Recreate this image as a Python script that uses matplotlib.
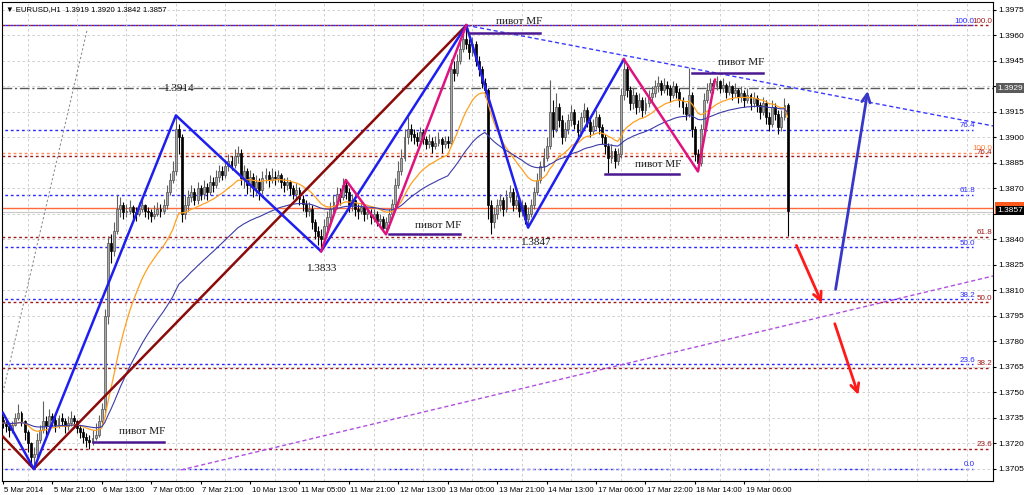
import numpy as np
import pandas as pd
import matplotlib
matplotlib.use("Agg")
import matplotlib.pyplot as plt
import matplotlib.transforms as mtrans
from matplotlib.patches import Rectangle

plt.rcParams["font.family"] = ["Liberation Sans", "DejaVu Sans"]

# prices are given in pips above 1.3700
BASE = 1.37
PIP = 0.0001

first_open = 34
close = [32, 30, 28, 31, 35, 38, 33, 27, 20, 12, 14, 22, 28, 33, 30, 36, 34, 31, 35, 33,
         30, 32, 35, 33, 29, 27, 24, 22, 21, 23, 25, 33, 40, 95, 138, 133, 145, 158, 160, 156,
         157, 159, 156, 155, 158, 160, 157, 156, 154, 155, 158, 157, 160, 168, 175, 180, 205, 200, 155, 160,
         165, 168, 163, 170, 167, 171, 168, 174, 172, 177, 180, 178, 183, 186, 184, 189, 191, 176, 180, 172,
         177, 170, 174, 169, 176, 178, 175, 177, 176, 178, 174, 172, 174, 170, 167, 169, 164, 161, 157, 158,
         150, 145, 142, 140, 148, 153, 158, 162, 167, 165, 172, 168, 160, 163, 158, 157, 159, 155, 156, 153,
         155, 151, 152, 147, 150, 155, 161, 172, 180, 188, 200, 205, 202, 200, 198, 203, 199, 196, 198, 195,
         197, 199, 196, 198, 197, 240, 238, 245, 252, 258, 255, 250, 255, 245, 240, 232, 228, 160, 150, 155,
         160, 163, 158, 165, 168, 160, 163, 157, 160, 152, 155, 160, 168, 175, 183, 188, 195, 215, 205, 218,
         210, 200, 205, 210, 215, 208, 203, 212, 216, 209, 204, 207, 212, 206, 200, 195, 188, 192, 186, 190,
         225, 240, 228, 220, 225, 218, 222, 216, 220, 224, 226, 230, 232, 228, 231, 229, 225, 230, 227, 222,
         218, 214, 225, 205, 190, 185, 205, 222, 228, 232, 230, 233, 229, 231, 227, 230, 226, 228, 224, 226,
         222, 225, 220, 223, 219, 215, 220, 212, 208, 218, 214, 206, 212, 219, 157]
high = [36, 34, 31, 33, 38, 43, 39, 34, 28, 21, 18, 26, 31, 45, 36, 40, 38, 36, 37, 38,
        35, 36, 39, 37, 34, 31, 29, 26, 25, 28, 32, 37, 44, 99, 142, 143, 150, 166, 165, 162,
        161, 163, 160, 159, 162, 164, 161, 159, 158, 160, 162, 161, 164, 172, 179, 186, 213, 208, 202, 166,
        169, 172, 170, 174, 172, 175, 173, 178, 177, 181, 184, 183, 187, 190, 189, 193, 195, 193, 184, 182,
        181, 179, 178, 176, 180, 182, 180, 182, 180, 181, 179, 176, 177, 175, 172, 173, 171, 166, 163, 162,
        160, 152, 148, 146, 152, 157, 162, 166, 171, 170, 176, 175, 170, 167, 164, 161, 163, 161, 159, 158,
        158, 157, 155, 154, 153, 158, 164, 176, 186, 193, 205, 212, 208, 205, 203, 206, 205, 201, 202, 200,
        201, 203, 200, 201, 201, 246, 245, 249, 256, 263, 266, 258, 259, 257, 248, 242, 235, 229, 163, 159,
        164, 167, 165, 169, 172, 170, 166, 165, 163, 162, 159, 164, 171, 179, 186, 194, 200, 234, 222, 226,
        220, 213, 209, 214, 219, 217, 210, 215, 220, 218, 211, 211, 216, 214, 208, 202, 197, 196, 194, 194,
        229, 246, 242, 230, 229, 227, 226, 224, 224, 228, 230, 234, 236, 234, 235, 233, 231, 233, 232, 229,
        224, 220, 241, 227, 207, 193, 208, 226, 232, 235, 234, 236, 234, 235, 232, 233, 231, 232, 229, 230,
        228, 229, 226, 227, 225, 221, 224, 222, 215, 222, 220, 216, 216, 223, 220]
low = [29, 27, 24, 26, 30, 34, 30, 22, 15, 8, 5, 12, 20, 26, 24, 28, 30, 27, 29, 30,
       26, 28, 30, 29, 26, 23, 20, 18, 17, 19, 22, 24, 30, 36, 90, 126, 130, 143, 153, 152,
       153, 155, 152, 151, 154, 156, 153, 152, 150, 152, 154, 153, 155, 158, 166, 173, 178, 190, 150, 152,
       157, 162, 160, 161, 163, 164, 163, 166, 168, 170, 174, 175, 176, 180, 181, 182, 185, 172, 170, 167,
       168, 165, 166, 163, 167, 173, 171, 173, 172, 174, 170, 168, 169, 166, 164, 163, 160, 157, 153, 154,
       146, 140, 137, 133, 138, 145, 150, 155, 158, 160, 163, 164, 156, 157, 154, 152, 155, 151, 152, 149,
       150, 148, 147, 145, 143, 147, 152, 159, 170, 178, 186, 196, 198, 196, 195, 196, 196, 193, 194, 191,
       193, 195, 191, 194, 194, 195, 233, 236, 243, 250, 252, 246, 248, 242, 236, 229, 224, 152, 143, 147,
       152, 157, 154, 156, 162, 157, 158, 153, 154, 149, 147, 153, 158, 166, 173, 180, 186, 193, 200, 203,
       206, 196, 198, 202, 207, 205, 199, 201, 209, 206, 200, 202, 205, 202, 196, 190, 179, 185, 182, 184,
       188, 222, 224, 216, 217, 214, 215, 212, 214, 218, 221, 224, 227, 225, 226, 225, 221, 223, 223, 218,
       214, 210, 212, 200, 186, 180, 183, 203, 220, 226, 226, 228, 226, 227, 223, 225, 222, 224, 220, 221,
       218, 220, 216, 218, 215, 211, 213, 208, 204, 206, 210, 202, 204, 210, 142]

# x axis labels, every 16 hourly bars
time_labels = ["5 Mar 2014", "5 Mar 21:00", "6 Mar 13:00", "7 Mar 05:00", "7 Mar 21:00",
               "10 Mar 13:00", "11 Mar 05:00", "11 Mar 21:00", "12 Mar 13:00", "13 Mar 05:00",
               "13 Mar 21:00", "14 Mar 13:00", "17 Mar 06:00", "17 Mar 22:00", "18 Mar 14:00",
               "19 Mar 06:00"]

# zigzags (bar, pips)
zz_red = [(0, 24), (10, 5), (150, 266)]
zz_blue = [(0, 38), (10, 5), (56, 213), (103, 133), (150, 266), (170, 147), (201, 246)]
zz_pink = [(103, 133), (111, 175), (124, 143), (150, 266)]
zz_pink2 = [(201, 246), (225, 180), (230.5, 234)]

# fibo levels
fib_blue = {"100.0": 266, "76.4": 204.4, "61.8": 166.3, "50.0": 135.5, "38.2": 104.7, "23.6": 66.6, "0.0": 5}
fib_red = {"100.0": 266, "76.4": 189, "61.8": 141.5, "50.0": 103, "38.2": 64.5, "23.6": 17}
fib_orange = {"100.0": 191}

# pivot MF lines: (x0, x1, level)
pivots = [(29, 52, 21), (125, 148, 143), (151, 174, 261.5), (195, 219, 178.5), (223, 246, 238)]
pivot_text = [(45, 27), (141, 148.5), (167, 268), (212, 184), (239, 244)]

zz_labels = [("1.3914", 57, 229), ("1.3833", 103.5, 123), ("1.3847", 172.5, 138), ("1.3966", 150, 282)]

# trend lines
tl_blue = [(150, 266), (222, 241)]
tl_purple = [(57.6, 4.4), (320.5, 118.5)]
tl_gray = [(0, 50), (27.2, 263)]

arrows_red = [((256.5, 138), (265.5, 101)), ((269, 92), (277.2, 47))]
arrow_blue = ((269.4, 109), (280.1, 229))

level_gray = 229       # 1.3929
level_orange = 158.5
last_price = 157


def p(v):
    return BASE + np.asarray(v, dtype=float) * PIP


n = len(close)
x = np.arange(n)
c = np.array(close)
o = np.concatenate([[first_open], c[:-1]])
h = np.array(high)
l = np.array(low)

fig = plt.figure(figsize=(10.24, 4.95), dpi=100)
ax = fig.add_axes([2 / 1024, 14 / 495, 991 / 1024, 479 / 495])
ax.set_xlim(-0.3, 320.5)
ax.set_ylim(1.36979, 1.39797)

# grid
yt = np.arange(1.3705, 1.39751, 0.0015)
ax.set_yticks(yt)
ax.set_yticklabels(["" if abs(v - 1.3930) < 1e-6 or abs(v - 1.3855) < 1e-6 else f"{v:.4f}" for v in yt])
ax.set_xticks(np.arange(0, 16 * len(time_labels), 16))
ax.set_xticklabels(time_labels, ha="left")
ax.set_xticks(np.arange(8, 320, 16), minor=True)
ax.grid(True, which="major", axis="y", color="#c8c8c8", linestyle=(0, (3, 3)), linewidth=0.6)
ax.grid(True, which="minor", axis="x", color="#c8c8c8", linestyle=(0, (3, 3)), linewidth=0.6)
ax.yaxis.tick_right()
ax.tick_params(axis="y", which="major", labelsize=6, length=2.5, pad=1.5, color="black")
ax.tick_params(axis="x", which="major", labelsize=5.6, length=2.5, pad=1.5, color="black")
ax.tick_params(axis="x", which="minor", length=0)
for lab in ax.get_xticklabels():
    lab.set_transform(lab.get_transform() + mtrans.ScaledTranslation(1.5 / 100, 0, fig.dpi_scale_trans))
for s in ax.spines.values():
    s.set_color("black")
    s.set_linewidth(0.8)

right = ax.get_xlim()[1]

# fibo lines
for k, v in fib_red.items():
    ax.plot([-0.3, 319], [p(v)] * 2, color="#a01818", linestyle=(0, (2, 2)), lw=1, zorder=1)
    ax.text(320.2, p(v) + 0.00003, k, color="#a01818", fontsize=5.8, ha="right", va="bottom")
for k, v in fib_blue.items():
    ax.plot([-0.3, 314], [p(v)] * 2, color="#2828ff", linestyle=(2, (2, 2)), lw=1, zorder=1)
    ax.text(314.7 if k != "100.0" else 314.3, p(v) + 0.00003, k, color="#2828ff", fontsize=5.8,
            ha="right", va="bottom")
for k, v in fib_orange.items():
    ax.plot([-0.3, 319], [p(v)] * 2, color="#ff8c5a", linestyle=(0, (2, 2)), lw=1, zorder=1)
    ax.text(320.2, p(v) + 0.00003, k, color="#ff7f3f", fontsize=5.8, ha="right", va="bottom")

ax.axhline(p(level_gray), color="#5a5a5a", linestyle=(0, (7, 2, 1.5, 2)), lw=1, zorder=1)
ax.axhline(p(level_orange), color="#ff6a3d", lw=1, zorder=1)
ax.axhline(p(last_price - 0.8), color="#c8c8c8", lw=0.8, zorder=1)

# trend lines
(bx0, by0), (bx1, by1) = tl_blue
slope = (by1 - by0) / (bx1 - bx0)
ax.plot([bx0, right], p([by0, by0 + slope * (right - bx0)]), color="#3a3aff", linestyle=(0, (3, 2)), lw=1, zorder=2)
ax.plot(*zip(*[(a, p(b)) for a, b in tl_purple]), color="#b050e0", linestyle=(0, (3, 2)), lw=1, zorder=2)
ax.plot(*zip(*[(a, p(b)) for a, b in tl_gray]), color="#909090", linestyle=(0, (2, 2)), lw=0.8, zorder=2)

# candles
up = c >= o
ax.vlines(x[up], p(l[up]), p(h[up]), color="#606060", lw=0.8, zorder=3)
ax.vlines(x[~up], p(l[~up]), p(h[~up]), color="black", lw=0.8, zorder=3)
body = np.where(np.abs(c - o) < 0.6, 0.6, c - o)
ax.bar(x[up], body[up] * PIP, bottom=p(o[up]), width=0.62, color="#a8a8a8", edgecolor="#505050",
       linewidth=0.5, zorder=4)
ax.bar(x[~up], body[~up] * PIP, bottom=p(o[~up]), width=0.62, color="black", edgecolor="black",
       linewidth=0.5, zorder=4)

# moving averages
cs = pd.Series(p(c))
ax.plot(x, cs.ewm(span=21, adjust=False).mean(), color="#ffa020", lw=0.9, zorder=5)
ax.plot(x, cs.ewm(span=50, adjust=False).mean(), color="#3c3ca8", lw=0.8, zorder=5)

# zigzags
for pts, col in [(zz_red, "#8b0a0a"), (zz_blue, "#1e1ef0"), (zz_pink, "#e0127f"), (zz_pink2, "#e0127f")]:
    ax.plot([a for a, b in pts], p([b for a, b in pts]), color=col, lw=1.8, zorder=6)

# pivot MF
for (a0, a1, lv), (tx, ty) in zip(pivots, pivot_text):
    ax.plot([a0, a1], [p(lv)] * 2, color="#4b1890", lw=1.8, zorder=6)
    ax.text(tx, p(ty), "пивот MF", family="Liberation Serif", fontsize=8, ha="center", va="center",
            color="#1a1a1a", zorder=7)

for t, tx, ty in zz_labels:
    ax.text(tx, p(ty), t, family="Liberation Serif", fontsize=8, ha="center", va="center",
            color="#1a1a1a", zorder=7, clip_on=True)

# arrows
for (t0, t1) in arrows_red:
    ax.annotate("", xy=(t1[0], p(t1[1])), xytext=(t0[0], p(t0[1])),
                arrowprops=dict(arrowstyle="->,head_length=0.6,head_width=0.3", color="#ff1a1a", lw=2))
ax.annotate("", xy=(arrow_blue[1][0], p(arrow_blue[1][1])), xytext=(arrow_blue[0][0], p(arrow_blue[0][1])),
            arrowprops=dict(arrowstyle="->,head_length=0.6,head_width=0.3", color="#3838c8", lw=2))

# price boxes on the axis
tr = mtrans.blended_transform_factory(ax.transAxes, ax.transData)
ax.add_patch(Rectangle((1.002, p(last_price - 2)), 0.03, 7 * PIP, transform=tr, facecolor="#ff5a1e",
                       edgecolor="none", clip_on=False, zorder=8))
ax.text(1.004, p(last_price), "1.3857", transform=tr, fontsize=6, color="white", va="center",
        ha="left", bbox=dict(facecolor="black", edgecolor="none", pad=1.0), clip_on=False, zorder=9)
ax.text(1.004, p(level_gray), "1.3929", transform=tr, fontsize=6, color="white", va="center",
        ha="left", bbox=dict(facecolor="#5a5a5a", edgecolor="none", pad=1.0), clip_on=False, zorder=9)

ax.text(0.004, 0.992, "\u25bc EURUSD,H1  1.3919 1.3920 1.3842 1.3857", transform=ax.transAxes,
        fontsize=5.6, va="top", ha="left", color="black", zorder=9)

fig.savefig("out.png", dpi=100)
